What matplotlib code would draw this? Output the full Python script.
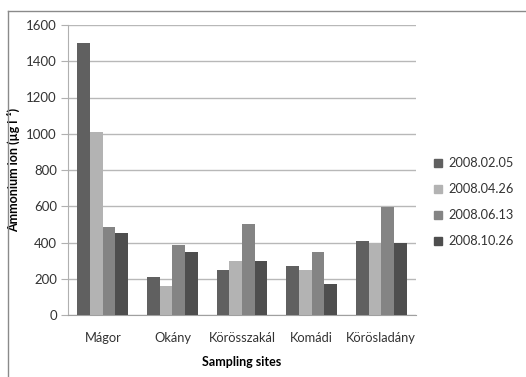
import matplotlib
matplotlib.use("Agg")
import matplotlib.pyplot as plt
import numpy as np
from matplotlib.lines import Line2D

sites = ["Mágor", "Okány", "Körösszakál", "Komádi", "Körösladány"]
dates = ["2008.02.05", "2008.04.26", "2008.06.13", "2008.10.26"]
v_0205 = [1500, 208, 248, 270, 407]
v_0426 = [1010, 158, 298, 248, 399]
v_0613 = [488, 385, 500, 348, 598]
v_1026 = [451, 348, 300, 169, 400]
series = [v_0205, v_0426, v_0613, v_1026]
colors = ["#606060", "#b3b3b3", "#848484", "#4e4e4e"]
yticks = [0, 200, 400, 600, 800, 1000, 1200, 1400, 1600]

plt.rcParams["font.family"] = ["Lato", "DejaVu Sans"]

W, H = 526, 377
fig = plt.figure(figsize=(W / 100, H / 100), dpi=100)
ax = fig.add_axes([68 / W, 1 - 315 / H, (416 - 68) / W, (315 - 25) / H])

x = np.arange(len(sites))
bw = 1 / 5.5
for i, (vals, c) in enumerate(zip(series, colors)):
    ax.bar(x + (i - 1.5) * bw, vals, width=bw, color=c, label=dates[i], zorder=3)

ax.set_xlim(-0.5, len(sites) - 0.5)
ax.set_ylim(0, 1600)
ax.set_yticks(yticks)
ax.set_xticks(x)
ax.set_xticklabels(sites)
ax.grid(axis="y", color="#b8b8b8", linewidth=1, zorder=0)
for s in ["top", "right"]:
    ax.spines[s].set_visible(False)
ax.spines["left"].set_color("#b0b0b0")
ax.spines["bottom"].set_color("#a0a0a0")
ax.tick_params(axis="y", length=5, color="#b0b0b0", labelsize=9.5, labelcolor="#333333", pad=3)
ax.tick_params(axis="x", length=0, labelsize=9.3, labelcolor="#333333", pad=12)

ax.set_xlabel("Sampling sites", fontsize=9, fontweight="bold", labelpad=9)
ax.set_ylabel("Ammonium ion (µg l⁻¹)", fontsize=9, fontweight="bold",
              family=["Lato", "DejaVu Sans"])
ax.yaxis.set_label_coords((20 - 68) / (416 - 68), 0.5)

handles = [Line2D([], [], marker="s", linestyle="none", color=c, markersize=6) for c in colors]
leg = fig.legend(handles, dates, loc="upper left", bbox_to_anchor=(428 / W, 1 - 152 / H),
                 frameon=False, fontsize=9.2, handlelength=0.8, handletextpad=0.4,
                 labelspacing=1.1, borderaxespad=0)
for t in leg.get_texts():
    t.set_color("#333333")

fig.add_artist(Line2D([8 / W, 8 / W], [0, 1 - 11 / H], transform=fig.transFigure, color="#8a8a8a", linewidth=1))
fig.add_artist(Line2D([8 / W, 1], [1 - 11 / H, 1 - 11 / H], transform=fig.transFigure, color="#8a8a8a", linewidth=1))

fig.savefig("out.png", dpi=100)
